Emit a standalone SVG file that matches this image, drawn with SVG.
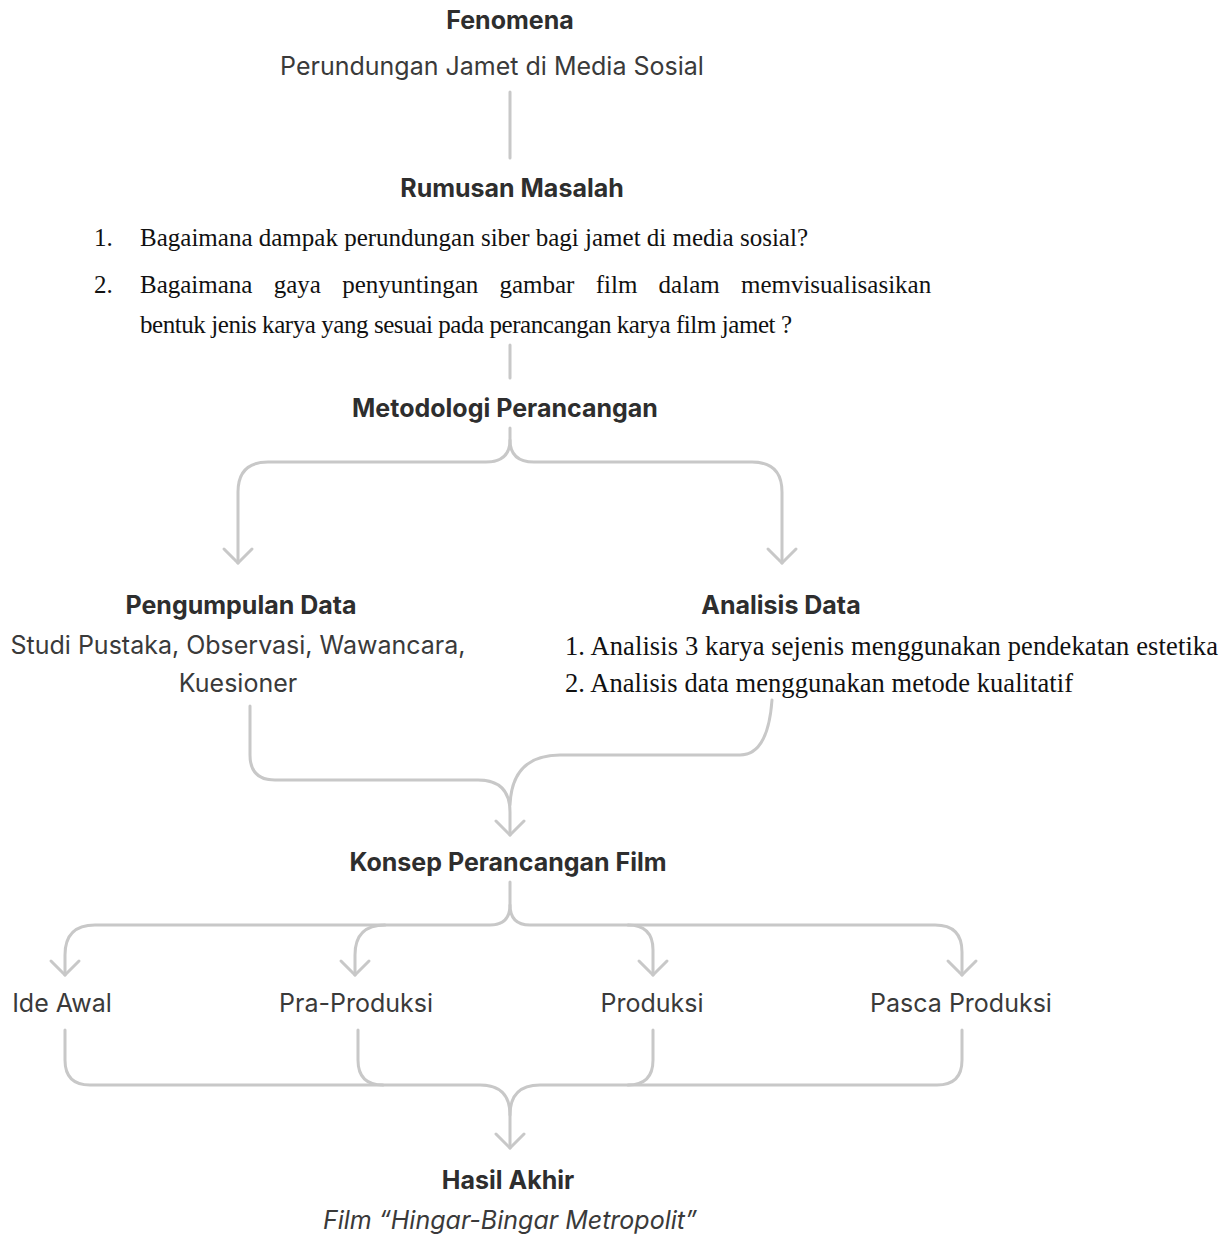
<svg xmlns="http://www.w3.org/2000/svg" width="1226" height="1237" viewBox="0 0 1226 1237">
<defs>
<style>
.h{font-family:Inter,"Noto Sans",sans-serif;font-weight:700;font-size:25px;fill:#2e2e2e;text-anchor:middle}
.s{font-family:Inter,"Noto Sans",sans-serif;font-weight:400;font-size:25px;fill:#3a3a3a;text-anchor:middle}
.t{font-family:"Liberation Serif","Times New Roman",serif;font-size:25px;fill:#111}
.a{font-family:"Liberation Serif","Times New Roman",serif;font-size:26.5px;fill:#111}
.c{fill:none;stroke:#c8c8c8;stroke-width:3;stroke-linecap:round;stroke-linejoin:round}
</style>
<marker id="ar" markerUnits="userSpaceOnUse" markerWidth="40" markerHeight="40" refX="20" refY="20" orient="auto" viewBox="0 0 40 40">
<path d="M6,6 L20,20 L6,34" fill="none" stroke="#c8c8c8" stroke-width="3" stroke-linecap="round" stroke-linejoin="round"/>
</marker>
</defs>
<rect width="1226" height="1237" fill="#fff"/>
<g id="connectors">
<path class="c" d="M510,92 V158"/>
<path class="c" d="M510,345 V378"/>
<path class="c" d="M510,428 V440 Q510,462 486,462 H268 Q238,462 238,492 V563" marker-end="url(#ar)"/>
<path class="c" d="M510,440 Q510,462 534,462 H752 Q782,462 782,492 V563" marker-end="url(#ar)"/>
<path class="c" d="M250,706 V755 Q250,780 275,780 H478 Q510,780 510,812 V835" marker-end="url(#ar)"/>
<path class="c" d="M772,700 Q768,755 740,755 H560 Q512,755 510,805"/>
<path class="c" d="M510,882 V905 Q510,925 490,925 H95 Q65,925 65,955 V975" marker-end="url(#ar)"/>
<path class="c" d="M385,925 Q355,925 355,955 V975" marker-end="url(#ar)"/>
<path class="c" d="M510,905 Q510,925 530,925 H935 Q962,925 962,952 V975" marker-end="url(#ar)"/>
<path class="c" d="M628,925 Q653,925 653,950 V975" marker-end="url(#ar)"/>
<path class="c" d="M65,1030 V1060 Q65,1085 90,1085 H480 Q510,1085 510,1115 V1148" marker-end="url(#ar)"/>
<path class="c" d="M962,1030 V1060 Q962,1085 937,1085 H540 Q510,1085 510,1115"/>
<path class="c" d="M358,1030 V1060 Q358,1085 383,1085"/>
<path class="c" d="M653,1030 V1060 Q653,1085 628,1085"/>
</g>
<g id="fenomena">
<text class="h" x="510" y="29">Fenomena</text>
<text class="s" x="492" y="75" font-size="26.5">Perundungan Jamet di Media Sosial</text>
</g>
<g id="rumusan">
<text class="h" x="512" y="197" font-size="24.5">Rumusan Masalah</text>
<text class="t" x="94" y="246">1.</text>
<text class="t" x="140" y="246" textLength="668">Bagaimana dampak perundungan siber bagi jamet di media sosial?</text>
<text class="t" x="94" y="293">2.</text>
<text class="t" x="140" y="293" word-spacing="15">Bagaimana gaya penyuntingan gambar film dalam memvisualisasikan</text>
<text class="t" x="140" y="333" textLength="652">bentuk jenis karya yang sesuai pada perancangan karya film jamet ?</text>
</g>
<g id="metodologi">
<text class="h" x="505" y="417" font-size="25.4">Metodologi Perancangan</text>
</g>
<g id="pengumpulan">
<text class="h" x="241" y="614" font-size="26">Pengumpulan Data</text>
<text class="s" x="238" y="654">Studi Pustaka, Observasi, Wawancara,</text>
<text class="s" x="238" y="692">Kuesioner</text>
</g>
<g id="analisis">
<text class="h" x="781" y="614" font-size="25.5">Analisis Data</text>
<text class="a" x="565" y="655" textLength="653">1. Analisis 3 karya sejenis menggunakan pendekatan estetika</text>
<text class="a" x="565" y="692" textLength="508">2. Analisis data menggunakan metode kualitatif</text>
</g>
<g id="konsep">
<text class="h" x="508" y="871">Konsep Perancangan Film</text>
</g>
<g id="ide-awal"><text class="s" x="62" y="1012">Ide Awal</text></g>
<g id="pra-produksi"><text class="s" x="356" y="1012">Pra-Produksi</text></g>
<g id="produksi"><text class="s" x="652" y="1012">Produksi</text></g>
<g id="pasca-produksi"><text class="s" x="961" y="1012">Pasca Produksi</text></g>
<g id="hasil">
<text class="h" x="508" y="1189" font-size="24.5">Hasil Akhir</text>
<text class="s" x="510" y="1229" font-style="italic">Film “Hingar-Bingar Metropolit”</text>
</g>
</svg>
